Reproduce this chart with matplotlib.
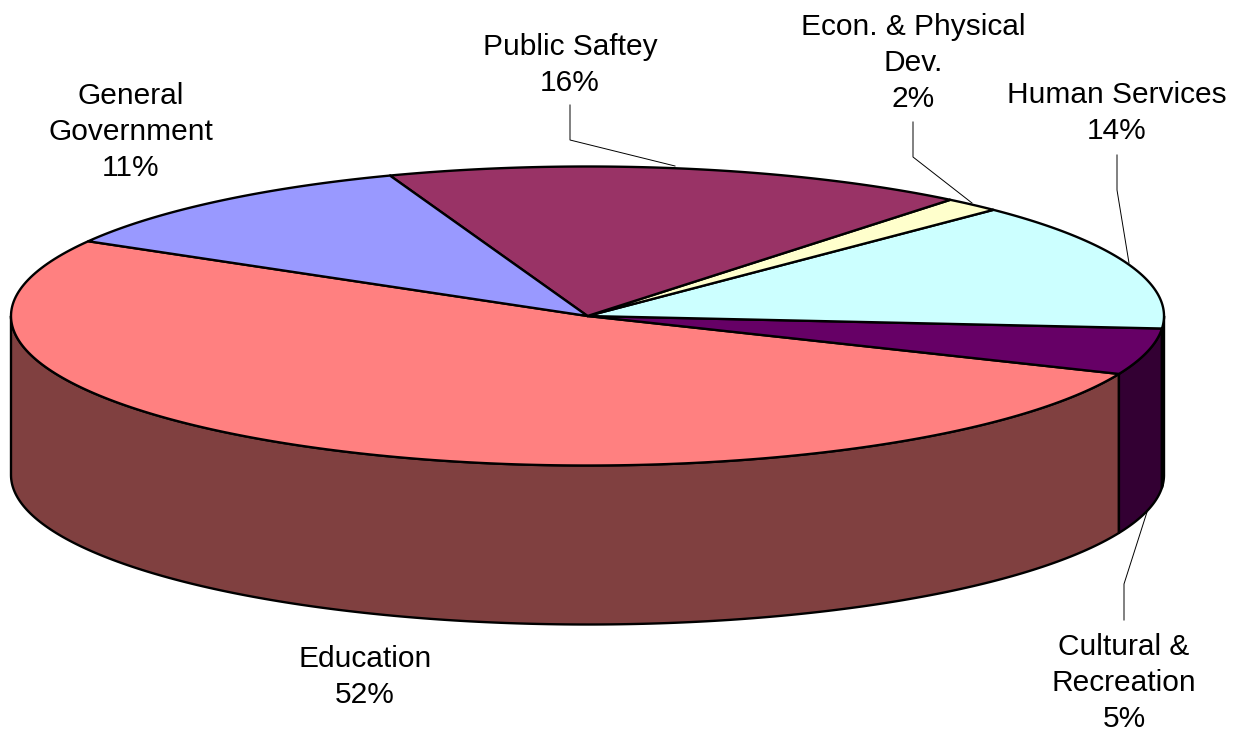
import numpy as np
import matplotlib
matplotlib.use("Agg")
import matplotlib.pyplot as plt
from matplotlib.patches import Polygon

plt.rcParams['font.family'] = ['Liberation Sans', 'DejaVu Sans']

# Data, in drawing order (counter-clockwise from the start angle)
categories = ["Education", "Cultural &\nRecreation", "Human Services",
              "Econ. & Physical\nDev.", "Public Saftey", "General\nGovernment"]
values = [52.0, 5.0, 13.9, 1.6, 16.4, 11.1]
top_colors = ["#FF8080", "#660066", "#CCFFFF", "#FFFFCC", "#993366", "#9999FF"]
side_colors = ["#804040", "#330033", "#668080", "#808066", "#4D1A33", "#4D4D80"]

START = 150.0
CX, CY, RX, RY, DEPTH = 587.5, 316.0, 576.5, 149.5, 159.0
LW = 1.7

label_xy = [(365, 677), (1124, 683), (1117, 113), (913, 63), (570, 65), (131, 132)]
leaders = [None,
           [(1124, 620), (1124, 584), (1147, 512)],
           [(1117, 155), (1117, 190), (1129, 263)],
           [(913, 122), (913, 157), (972, 203)],
           [(570, 105), (570, 140), (675, 166)],
           None]

fig = plt.figure(figsize=(12.43, 7.33), dpi=100)
ax = fig.add_axes([0, 0, 1, 1])
ax.set_xlim(0, 1243)
ax.set_ylim(733, 0)
ax.axis("off")


def rim(a0, a1, dy=0.0, n=200):
    t = np.radians(np.linspace(a0, a1, n))
    return np.column_stack([CX + RX * np.cos(t), CY - RY * np.sin(t) + dy])


edges = START + np.concatenate([[0], np.cumsum(values)]) * 3.6 / (sum(values) / 100)

# side walls: only the front half of the rim (180..360 degrees) is visible
for a0, a1, col in zip(edges[:-1], edges[1:], side_colors):
    lo, hi = max(a0, 180.0), min(a1, 360.0)
    if hi > lo:
        upper = rim(lo, hi)
        lower = rim(hi, lo, DEPTH)
        ax.add_patch(Polygon(np.vstack([upper, lower]), closed=True, fc=col,
                             ec="black", lw=LW, joinstyle="round", zorder=2))

# top wedges
for a0, a1, col in zip(edges[:-1], edges[1:], top_colors):
    pts = np.vstack([[[CX, CY]], rim(a0, a1)])
    ax.add_patch(Polygon(pts, closed=True, fc=col, ec="black", lw=LW,
                         joinstyle="round", zorder=3))

# leader lines and labels
for name, v, xy, lead in zip(categories, values, label_xy, leaders):
    if lead is not None:
        xs, ys = zip(*lead)
        ax.plot(xs, ys, color="black", lw=0.7, zorder=4, solid_joinstyle="miter")
    ax.text(xy[0], xy[1], f"{name}\n{v:.0f}%", ha="center", va="center",
            fontsize=21.5, color="black", linespacing=1.37, zorder=5)

fig.savefig("out.png", dpi=100, facecolor="white")
